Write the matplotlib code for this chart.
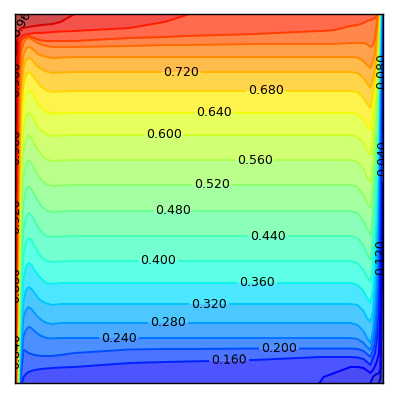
import numpy as np
import matplotlib
matplotlib.use("Agg")
import matplotlib.pyplot as plt

L, H = -30.0, 400.0  # heights beyond the box: this isotherm is outside the domain at that station

x_stations = [0, 1, 2, 3, 4.5, 6.5, 9, 11.5, 14, 17, 20, 23.5, 27, 32, 38, 46, 60,
              115, 150, 172, 240, 305, 309, 320, 336,
              343, 349, 352.5, 356,
              358.5, 360.5, 362.5, 364.5, 366, 367.5, 368.5]

levels = [0.00, 0.04, 0.08, 0.12, 0.16, 0.20, 0.24, 0.28, 0.32, 0.36, 0.40, 0.44, 0.48,
          0.52, 0.56, 0.60, 0.64, 0.68, 0.72, 0.76, 0.80, 0.84, 0.88, 0.92, 0.96, 1.00]

# height of every isotherm at each x station
y_000 = [L]*36
y_004 = [L]*32 + [0, 5, 100, H]
y_008 = [L]*28 + [0, 6, 8, 9, 10, 15, 300, H]
y_012 = [L]*21 + [0, 6, 10, 16, 16, 15, 12.5, 10, 13, 17, 22, 30, 80, H, H]
y_016 = [L,L,L,L,L,-5,6,9,11,12,13,13.5,14,14.5,15,15.5,16, 20,21,21.5,23,26,26,26,26, 25.5,24,21,18, 25,30,45,85,180,H,H]
y_020 = [L,L,L,L,L,8,33,32,30,29,28,27.5,27,27,27,28,30, 33.5,34,34,34.5,34.5,34.5,34.5,34.5, 34,32,29,26, 33,40,65,130,250,H,H]
y_024 = [L,L,L,L,-5,20,47,53,56,55,52,49,47,45,44.5,45,45, 45,45,45,45,45,45,45,45, 44,40,36,33, 42,55,90,190,300,H,H]
y_028 = [L,L,L,L,0,35,66,73,76,74,70,66,63,60,59,60,60, 60,60,60,60,60,60,60,60, 58,52,45,40, 52,75,125,240,335,H,H]
y_032 = [L,L,L,L,8,50,82,93,96,94,90,85,82,79.5,78,79,79, 79,79,79,79,79,79,79,79, 78,72,65,61, 72,100,160,280,360,H,H]
y_036 = [L,L,L,L,15,65,104,116,120,118,113,108,104,100,99,100,100, 100,100,100,100,100,100,100,100, 98,92,85,80, 95,135,190,315,H,H,H]
y_040 = [L,L,L,L,25,95,128,141,145,143,137,131,126,122,121,121.5,122, 122,122,122,122,122,122,122,122, 120,113,106,101, 120,170,215,335,H,H,H]
y_044 = [L,L,L,L,35,115,154,166,170,168,162,156,151,147,146,146.5,147, 147,147,147,147,147,147,147,147, 145,137,129,123, 145,200,235,345,H,H,H]
y_048 = [L,L,L,L,45,140,180,193,197,194,188,182,177,172.5,171,171.5,172, 172,172,172,172,172,172,172,172, 170,162,154,148, 170,225,255,352,H,H,H]
y_052 = [L,L,L,-8,60,175,206,219,223,220,214,208,203,198.5,197,197.5,198, 198,198,198,198,198,198,198,198, 196,188,180,175, 198,240,275,360,H,H,H]
y_056 = [L,L,L,0,80,200,232,244,248,245,239,233,228,223.5,222,222.5,223, 223,223,223,223,223,223,223,223, 221,214,206,201, 222,265,290,366,H,H,H]
y_060 = [L,L,L,15,110,225,255,267,270,268,262,256,252,248.5,247,247.5,248, 248,248,248,248,248,248,248,248, 246,240,233,228, 248,280,305,369,H,H,H]
y_064 = [L,L,L,30,135,248,278,290,293,291,285,279,275,270.5,269,269.5,270, 270,270,270,270,270,270,270,270, 269,263,257,253, 272,293,318,371,H,H,H]
y_068 = [L,L,L,50,165,268,298,308,311,309,305,300,296,292.5,291,291.5,292, 292,292,292,292,292,292,292,292, 291,285,279,275, 290,305,332,373,H,H,H]
y_072 = [L,L,L,80,200,290,315,323,325,324,320,316,314,311.5,310,310.5,311, 311,311,311,311,311,311,311,311, 310,305,300,295, 305,315,345,376,H,H,H]
y_076 = [L,L,-10,120,240,310,328,334,336,335,332,329,327.5,326,325,325.5,326, 326,326,326,326,326,326,326,326, 325.5,322,318,315, 322,330,358,380,H,H,H]
y_080 = [L,L,40,160,285,330,340,344,345,344,342,340,338.5,337,336,336,336, 337,338,338,339,339,339,339,340, 340,340,339,336, 338,345,362,H,H,H,H]
y_084 = [L,L,90,200,320,342,345,346,347,346,345,343.5,342.5,342,342,342,342, 345,346,347,349,352,352,353,357, 358,360,362,363, 364,365,369,H,H,H,H]
y_088 = [L,-5,160,290,340,346,348,348.5,349,349.5,350,350,350,350.5,351,351.5,352, 355,361,368,H,H,H,H,H, H,H,H,H, H,H,H,H,H,H,H]
y_092 = [L,80,260,345,352,355,355,355.5,356,356.5,357,357.5,358,358.5,359,361,369, H,H,H,H,H,H,H,H, H,H,H,H, H,H,H,H,H,H,H]
y_096 = [L,220,330,355,358,361,363,365,367,369,H,H,H,H,H,H,H, H,H,H,H,H,H,H,H, H,H,H,H, H,H,H,H,H,H,H]
y_100 = [H]*36

isotherm_heights = [y_000, y_004, y_008, y_012, y_016, y_020, y_024, y_028, y_032, y_036,
                    y_040, y_044, y_048, y_052, y_056, y_060, y_064, y_068, y_072, y_076,
                    y_080, y_084, y_088, y_092, y_096, y_100]

# where the contour labels sit (measured from the bottom-left of the box)
label_x = [166.5, 251.5, 199.5, 149.5, 240.5, 197.5, 158.5, 253.5, 143.5, 242.5, 194.5, 153.5, 104.5, 264.5, 214.5,
           8, 1.5, 1.5, 1.5, 1.5, 1.5, 367.62, 367.92, 366.2]
label_y = [311, 292, 271, 248, 224, 198, 172, 147, 122, 100, 79, 60, 44, 35, 24,
           364, 304, 236, 167, 98, 32, 312, 225, 126]

X = np.tile(np.array(x_stations, dtype=float), (len(levels), 1))
Y = np.array(isotherm_heights, dtype=float)
Z = np.tile(np.array(levels)[:, None], (1, len(x_stations)))

fig = plt.figure(figsize=(3.96, 3.96), dpi=100)
ax = fig.add_axes([14.5/396, 13/396, 368.5/396, 369.5/396])
ax.contourf(X, Y, Z, levels=levels, cmap="jet", vmin=0, vmax=1, alpha=0.7, antialiased=True)
cs = ax.contour(X, Y, Z, levels=levels[1:-1], cmap="jet", vmin=0, vmax=1, linewidths=1.4)
ax.clabel(cs, fmt="%.3f", colors="k", fontsize=9, inline_spacing=2, manual=list(zip(label_x, label_y)))
ax.set_xlim(0, 368.5)
ax.set_ylim(0, 369.5)
ax.set_xticks([])
ax.set_yticks([])
for s in ax.spines.values():
    s.set_linewidth(1.0)
fig.savefig("out.png", dpi=100)
